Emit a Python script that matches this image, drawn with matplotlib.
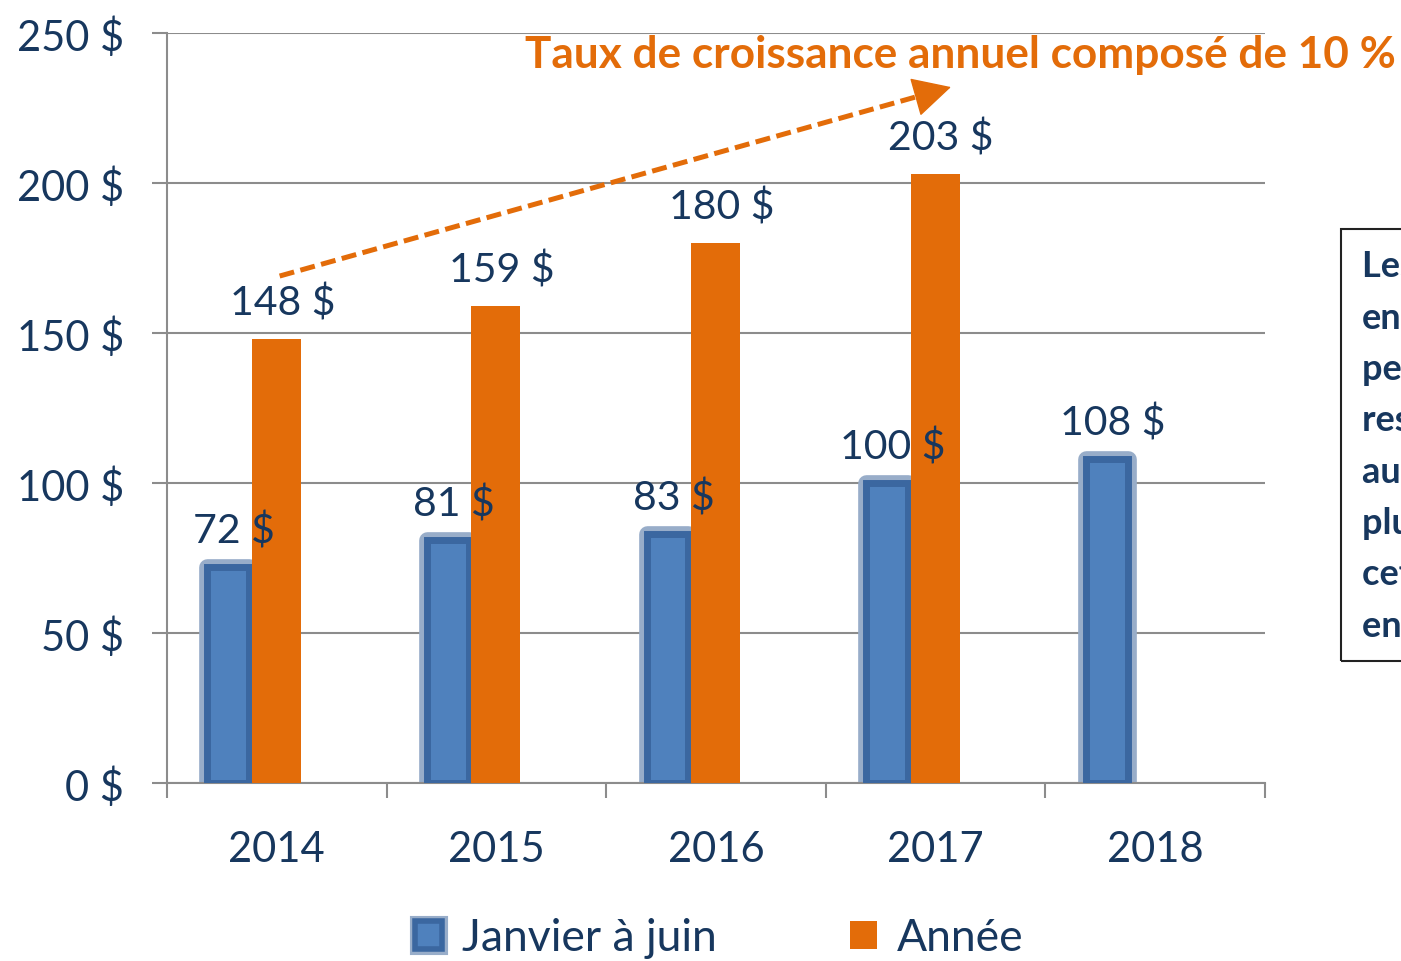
import numpy as np
import matplotlib.pyplot as plt
from matplotlib.patches import Rectangle, Patch
from matplotlib.ticker import FuncFormatter
from matplotlib.legend_handler import HandlerTuple

# données
annees = ['2014', '2015', '2016', '2017', '2018']
janvier_juin = [72, 81, 83, 100, 108]
annee_complete = [148, 159, 180, 203]
titre = "Taux de croissance annuel composé de 10 %"
encadre = ["Les ventes de", "enregistrées", "pendant le", "reste de", "au moins", "plus élevées", "cette année", "en 2018"]

navy = '#17375E'
orange = '#E36C09'
bleu = '#4F81BD'
bleu_bord = '#3B67A0'
bleu_halo = '#98ADC9'
gris = '#8C8C8C'
police = 'Lato'

plt.rcParams['font.family'] = [police, 'DejaVu Sans']

fig = plt.figure(figsize=(14.01, 9.62), dpi=100)
ax = fig.add_axes([0.1192, 0.185, 0.7837, 0.7796])

x = np.arange(len(annees))
w = 0.2227

# barres bleues: halo + bord foncé
xb = x - 0.2205
ax.bar(xb, janvier_juin, width=w - 0.032, color=bleu_halo, edgecolor=bleu_halo,
       linewidth=12, joinstyle='round', zorder=2)
ax.bar(xb, janvier_juin, width=w - 0.032, color=bleu, edgecolor=bleu_bord,
       linewidth=5, zorder=3)
# barres orange
xo = x[:len(annee_complete)] - 0.002
ax.bar(xo, annee_complete, width=w, color=orange, linewidth=0, zorder=4)

for xi, v in zip(xb, janvier_juin):
    ax.text(xi + 0.027, v + 6, f"{v} $", ha='center', va='bottom', fontsize=29.5, color=navy, zorder=6)
for xi, v in zip(xo, annee_complete):
    ax.text(xi + 0.027, v + 6, f"{v} $", ha='center', va='bottom', fontsize=29.5, color=navy, zorder=6)

ax.set_xlim(-0.5, len(annees) - 0.5)
ax.set_ylim(0, 250)
ax.set_yticks(range(0, 251, 50))
ax.yaxis.set_major_formatter(FuncFormatter(lambda v, p: f"{int(v)} $"))
ax.set_xticks(x)
ax.set_xticklabels(annees)
ax.set_xticks(np.arange(-0.5, len(annees)), minor=True)
ax.tick_params(axis='x', which='major', length=0, pad=34, labelsize=30, labelcolor=navy)
ax.tick_params(axis='x', which='minor', length=11, width=1.5, color=gris)
ax.tick_params(axis='y', length=11, width=1.5, color=gris, pad=20, labelsize=30, labelcolor=navy)

ax.grid(axis='y', color=gris, linewidth=1.5, zorder=0)
ax.set_axisbelow(True)
for s in ['top', 'right']:
    ax.spines[s].set_visible(False)
for s in ['left', 'bottom']:
    ax.spines[s].set_color(gris)
    ax.spines[s].set_linewidth(1.5)

# flèche de croissance : trait pointillé + pointe pleine
debut = np.array([0.013, 169.0])
fin = np.array([3.07, 232.0])
base = debut + 0.95 * (fin - debut)
ax.plot([debut[0], base[0]], [debut[1], base[1]], color=orange, lw=3.6,
        linestyle=(0, (3, 1.3)), clip_on=False, zorder=7)
ax.annotate('', xy=fin, xytext=base,
            arrowprops=dict(arrowstyle='-|>,head_length=1.25,head_width=0.65',
                            color=orange, lw=1, mutation_scale=20, shrinkA=0, shrinkB=0),
            annotation_clip=False, zorder=7)

fig.text(525 / 1401, 1 - 55 / 962, titre, ha='left', va='center', fontsize=31.8,
         fontweight='bold', color=orange)

# encadré à droite (coupé)
fig.add_artist(Rectangle((1341 / 1401, 1 - 662 / 962), 0.1, (662 - 230) / 962,
                         transform=fig.transFigure, fill=False, edgecolor='#222222', lw=1.5))
for i, ligne in enumerate(encadre):
    fig.text(1362 / 1401, 1 - (267 + 51.3 * i) / 962, ligne, ha='left', va='center',
             fontsize=26, fontweight='bold', color=navy)

# légende
h_bleu = (Patch(facecolor=bleu_halo, edgecolor=bleu_halo, linewidth=8, joinstyle='round'),
          Patch(facecolor=bleu, edgecolor=bleu_bord, linewidth=4))
h_orange = Patch(facecolor=orange, edgecolor='none')
fig.legend([h_bleu, h_orange], ['Janvier à juin', 'Année'],
           handler_map={tuple: HandlerTuple(ndivide=1, pad=0)},
           loc='center', bbox_to_anchor=(0.5135, 1 - 939 / 962), ncol=2, frameon=False,
           fontsize=32, labelcolor=navy, handlelength=0.6, handleheight=0.6,
           handletextpad=0.45, columnspacing=3.0)

fig.savefig('out.png', dpi=100)
